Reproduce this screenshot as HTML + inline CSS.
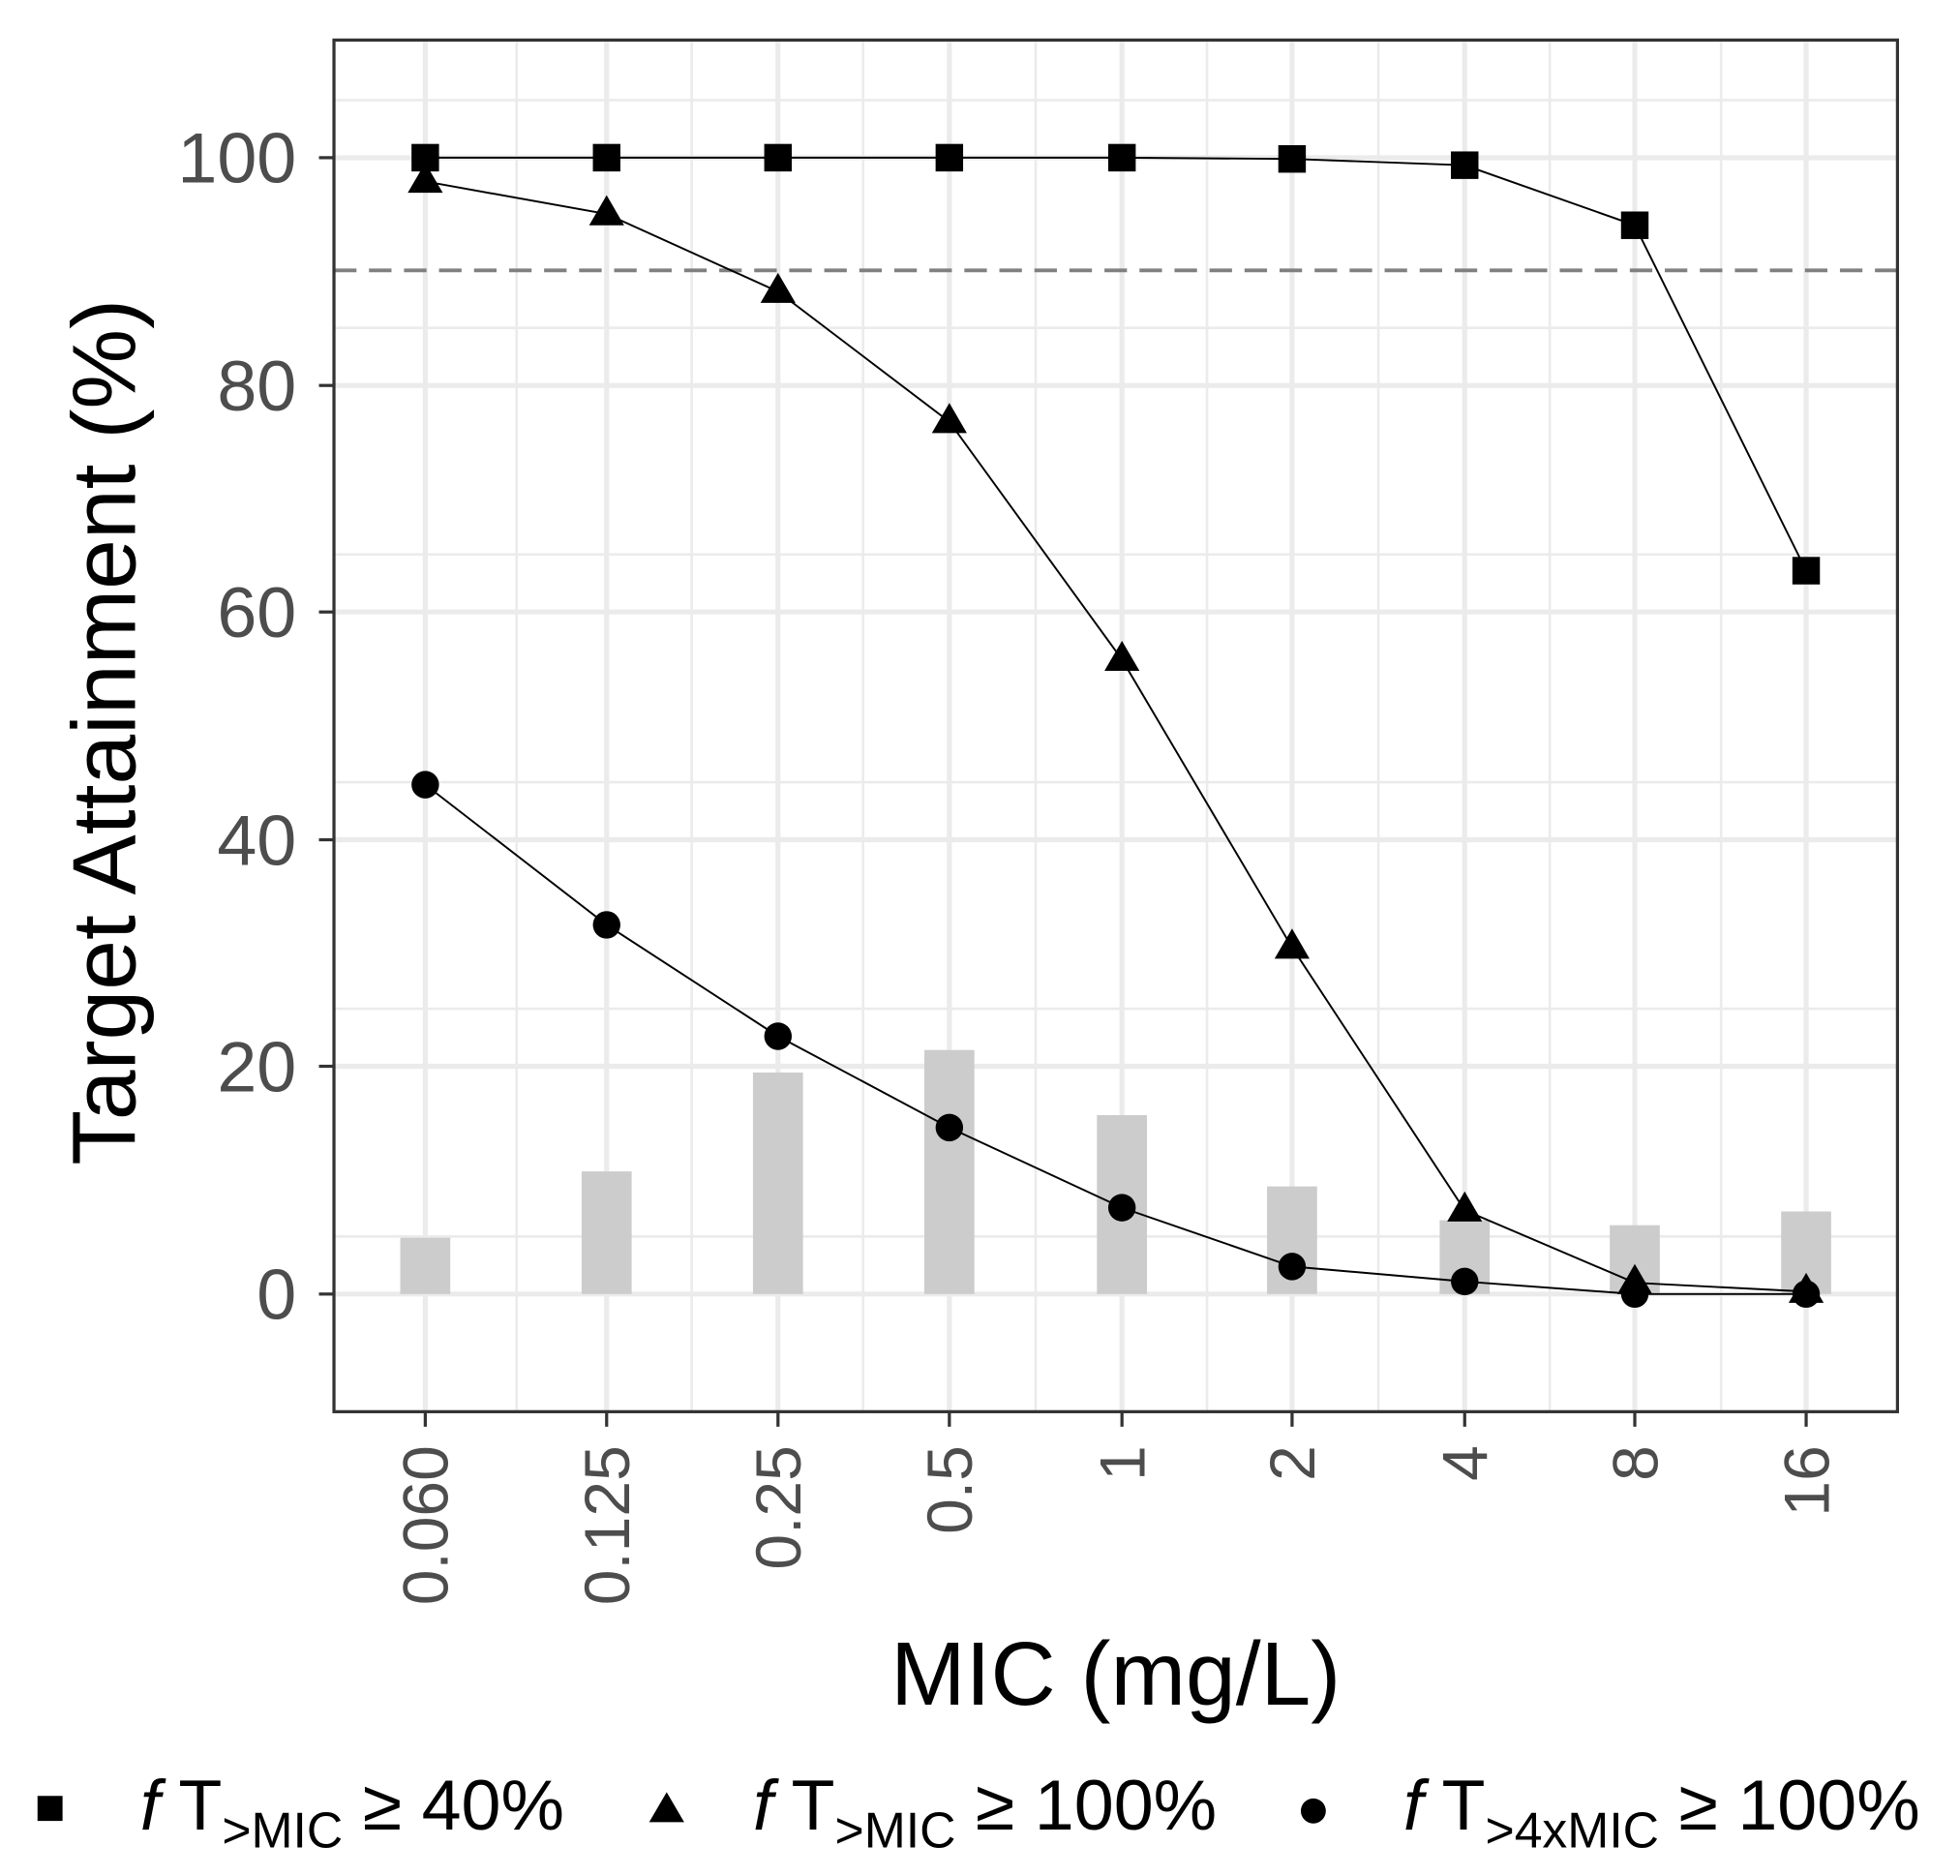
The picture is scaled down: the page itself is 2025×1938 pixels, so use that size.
<!DOCTYPE html>
<html><head><meta charset="utf-8"><style>html,body{margin:0;padding:0;background:#fff}svg{display:block}</style></head><body>
<svg width="2025" height="1938" viewBox="0 0 1567 1499" preserveAspectRatio="none" xmlns="http://www.w3.org/2000/svg" font-family="Liberation Sans, sans-serif">
<rect x="0" y="0" width="1567" height="1499" fill="#fff"/>
<g stroke="#ebebeb" stroke-width="2">
<line x1="267" x2="1517" y1="80" y2="80"/><line x1="267" x2="1517" y1="262" y2="262"/><line x1="267" x2="1517" y1="443" y2="443"/><line x1="267" x2="1517" y1="625" y2="625"/><line x1="267" x2="1517" y1="806" y2="806"/><line x1="267" x2="1517" y1="988" y2="988"/>
<line y1="32" y2="1128" x1="413" x2="413"/><line y1="32" y2="1128" x1="553" x2="553"/><line y1="32" y2="1128" x1="690" x2="690"/><line y1="32" y2="1128" x1="828" x2="828"/><line y1="32" y2="1128" x1="965" x2="965"/><line y1="32" y2="1128" x1="1102" x2="1102"/><line y1="32" y2="1128" x1="1239" x2="1239"/><line y1="32" y2="1128" x1="1376" x2="1376"/>
</g>
<g stroke="#ebebeb" stroke-width="4">
<line x1="267" x2="1517" y1="126" y2="126"/><line x1="267" x2="1517" y1="308" y2="308"/><line x1="267" x2="1517" y1="489" y2="489"/><line x1="267" x2="1517" y1="671" y2="671"/><line x1="267" x2="1517" y1="852" y2="852"/><line x1="267" x2="1517" y1="1034" y2="1034"/>
<line y1="32" y2="1128" x1="340" x2="340"/><line y1="32" y2="1128" x1="485" x2="485"/><line y1="32" y2="1128" x1="622" x2="622"/><line y1="32" y2="1128" x1="759" x2="759"/><line y1="32" y2="1128" x1="897" x2="897"/><line y1="32" y2="1128" x1="1033" x2="1033"/><line y1="32" y2="1128" x1="1171" x2="1171"/><line y1="32" y2="1128" x1="1307" x2="1307"/><line y1="32" y2="1128" x1="1444" x2="1444"/>
</g>
<g fill="#cccccc">
<rect x="320" y="989" width="40" height="45"/><rect x="465" y="936" width="40" height="98"/><rect x="602" y="857" width="40" height="177"/><rect x="739" y="839" width="40" height="195"/><rect x="877" y="891" width="40" height="143"/><rect x="1013" y="948" width="40" height="86"/><rect x="1151" y="975" width="40" height="59"/><rect x="1287" y="979" width="40" height="55"/><rect x="1424" y="968" width="40" height="66"/>
</g>
<line x1="267" x2="1517" y1="216" y2="216" stroke="#808080" stroke-width="3" stroke-dasharray="18,10"/>
<g fill="none" stroke="#000" stroke-width="1.5">
<polyline points="340,126 485,126 622,126 759,126 897,126 1033,127 1171,132 1307,180 1444,456"/>
<polyline points="340,145 485,171 622,233 759,337 897,527 1033,757 1171,967 1307,1025 1444,1032"/>
<polyline points="340,627 485,739 622,828 759,901 897,965 1033,1012 1171,1024 1307,1034 1444,1034"/>
</g>
<g fill="#000">
<rect x="329" y="115" width="22" height="22"/><rect x="474" y="115" width="22" height="22"/><rect x="611" y="115" width="22" height="22"/><rect x="748" y="115" width="22" height="22"/><rect x="886" y="115" width="22" height="22"/><rect x="1022" y="116" width="22" height="22"/><rect x="1160" y="121" width="22" height="22"/><rect x="1296" y="169" width="22" height="22"/><rect x="1433" y="445" width="22" height="22"/>
<path d="M340,130 l14,24 h-28z"/>
<path d="M485,156 l14,24 h-28z"/><path d="M622,218 l14,24 h-28z"/><path d="M759,322 l14,24 h-28z"/><path d="M897,512 l14,24 h-28z"/><path d="M1033,742 l14,24 h-28z"/><path d="M1171,952 l14,24 h-28z"/><path d="M1307,1010 l14,24 h-28z"/><path d="M1444,1017 l14,24 h-28z"/>
<circle cx="340" cy="627" r="11"/><circle cx="485" cy="739" r="11"/><circle cx="622" cy="828" r="11"/><circle cx="759" cy="901" r="11"/><circle cx="897" cy="965" r="11"/><circle cx="1033" cy="1012" r="11"/><circle cx="1171" cy="1024" r="11"/><circle cx="1307" cy="1034" r="11"/><circle cx="1444" cy="1034" r="11"/>
</g>
<rect x="267" y="32" width="1250" height="1096" fill="none" stroke="#333" stroke-width="2.5"/>
<g stroke="#333" stroke-width="2.5">
<line x1="255" x2="267" y1="126" y2="126"/><line x1="255" x2="267" y1="308" y2="308"/><line x1="255" x2="267" y1="489" y2="489"/><line x1="255" x2="267" y1="671" y2="671"/><line x1="255" x2="267" y1="852" y2="852"/><line x1="255" x2="267" y1="1034" y2="1034"/>
<line y1="1128" y2="1140" x1="340" x2="340"/><line y1="1128" y2="1140" x1="485" x2="485"/><line y1="1128" y2="1140" x1="622" x2="622"/><line y1="1128" y2="1140" x1="759" x2="759"/><line y1="1128" y2="1140" x1="897" x2="897"/><line y1="1128" y2="1140" x1="1033" x2="1033"/><line y1="1128" y2="1140" x1="1171" x2="1171"/><line y1="1128" y2="1140" x1="1307" x2="1307"/><line y1="1128" y2="1140" x1="1444" x2="1444"/>
</g>
<g fill="#4d4d4d" font-size="57" text-anchor="end">
<text x="237" y="146">100</text><text x="237" y="328">80</text><text x="237" y="509">60</text><text x="237" y="691">40</text><text x="237" y="872">20</text><text x="237" y="1054">0</text>
</g>
<g fill="#4d4d4d" font-size="51" text-anchor="end">
<text transform="translate(358,1155) rotate(-90)">0.060</text>
<text transform="translate(503,1155) rotate(-90)">0.125</text>
<text transform="translate(640,1155) rotate(-90)">0.25</text>
<text transform="translate(777,1155) rotate(-90)">0.5</text>
<text transform="translate(915,1155) rotate(-90)">1</text>
<text transform="translate(1051,1155) rotate(-90)">2</text>
<text transform="translate(1189,1155) rotate(-90)">4</text>
<text transform="translate(1325,1155) rotate(-90)">8</text>
<text transform="translate(1462,1155) rotate(-90)">16</text>
</g>
<text transform="translate(108,585) rotate(-90)" text-anchor="middle" font-size="72" fill="#000">Target Attainment (%)</text>
<text x="892" y="1362" text-anchor="middle" font-size="72" fill="#000">MIC (mg/L)</text>
<g fill="#000" font-size="57">
<rect x="30" y="1435" width="20" height="20"/>
<text x="112" y="1462"><tspan font-style="italic">f</tspan> T<tspan font-size="40" dy="14">&gt;MIC</tspan><tspan dy="-14"> ≥ 40%</tspan></text>
<path d="M533,1432 l14,24 h-28z"/>
<text x="602" y="1462"><tspan font-style="italic">f</tspan> T<tspan font-size="40" dy="14">&gt;MIC</tspan><tspan dy="-14"> ≥ 100%</tspan></text>
<circle cx="1050" cy="1447" r="10"/>
<text x="1122" y="1462"><tspan font-style="italic">f</tspan> T<tspan font-size="40" dy="14">&gt;4xMIC</tspan><tspan dy="-14"> ≥ 100%</tspan></text>
</g>
</svg>
</body></html>
